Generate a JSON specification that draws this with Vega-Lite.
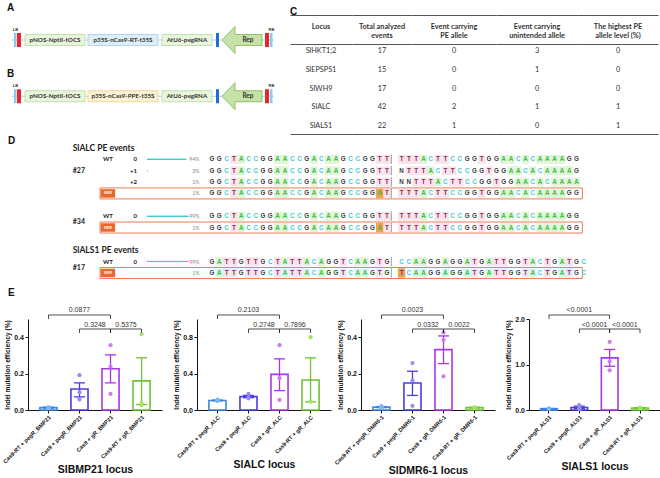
{
"$schema": "https://vega.github.io/schema/vega-lite/v6.json",
"padding": 0,
"background": "white",
"spacing": 0,
"resolve": {"scale": {"color": "independent", "fill": "independent", "stroke": "independent"}},
"config": {
  "aria": false,
  "view": {"stroke": null},
  "font": "Lato",
  "axis": {"labelFont": "Liberation Sans", "labelFontWeight": "bold", "labelColor": "#111", "labelFontSize": 7, "titleFont": "Liberation Sans", "titleFontWeight": "bold", "titleColor": "#111", "domainColor": "#111", "tickColor": "#111", "tickSize": 3, "grid": false},
  "axisY": {"titleFontSize": 6.6, "titlePadding": 3, "labelPadding": 1.5},
  "axisX": {"labelAngle": -45, "labelFontSize": 5.6, "titleFontSize": 10.5, "titlePadding": 0, "labelPadding": 1.5, "labelLimit": 200}
},
"datasets": {
  "cons": [
    {"c":"A","t":"lb","s":4.83,"e":5.69},
    {"c":"A","t":"red","s":5.86,"e":7.24},
    {"c":"A","t":"green","s":8.62,"e":29.31,"m":18.97,"label":"pNOS-NptII-tOCS"},
    {"c":"A","t":"blue","s":30.34,"e":54.48,"m":42.41,"label":"p35S-nCas9-RT-t35S"},
    {"c":"A","t":"green","s":55.86,"e":73.1,"m":64.48,"label":"AtU6-pegRNA"},
    {"c":"A","t":"dblue","s":74.48,"e":75.52},
    {"c":"A","t":"red","s":91.38,"e":92.76},
    {"c":"A","t":"lb","s":93.1,"e":93.97},
    {"c":"B","t":"lb","s":4.83,"e":5.69},
    {"c":"B","t":"red","s":5.86,"e":7.24},
    {"c":"B","t":"green","s":8.62,"e":29.31,"m":18.97,"label":"pNOS-NptII-tOCS"},
    {"c":"B","t":"yellow","s":30.34,"e":54.48,"m":42.41,"label":"p35S-nCas9-PPE-t35S"},
    {"c":"B","t":"green","s":55.86,"e":73.1,"m":64.48,"label":"AtU6-pegRNA"},
    {"c":"B","t":"dblue","s":74.48,"e":75.52},
    {"c":"B","t":"red","s":91.38,"e":92.76},
    {"c":"B","t":"lb","s":93.1,"e":93.97}
  ],
  "tbl": [
    {"row":1,"locus":"SlHKT1;2","total":17,"pe":0,"unint":3,"high":0},
    {"row":2,"locus":"SlEPSPS1","total":15,"pe":0,"unint":1,"high":0},
    {"row":3,"locus":"SlWH9","total":17,"pe":0,"unint":0,"high":0},
    {"row":4,"locus":"SlALC","total":42,"pe":2,"unint":1,"high":1},
    {"row":5,"locus":"SlALS1","total":22,"pe":1,"unint":0,"high":1}
  ],
  "seq": [
    {"row":"27WT","b":["G","G","C","T","A","C","C","G","G","A","A","C","C","G","A","C","A","A","G","C","C","G","G","T","T"," ","T","T","T","A","C","T","T","C","C","G","G","T","G","G","A","A","C","A","C","A","A","A","A","G","G"]},
    {"row":"27p1","b":["G","G","C","T","A","C","C","G","G","A","A","C","C","G","A","C","A","A","G","C","C","G","G","T","T"," ","N","T","T","T","A","C","T","T","C","C","G","G","T","G","G","A","A","C","A","C","A","A","A","A","G"]},
    {"row":"27p2","b":["G","G","C","T","A","C","C","G","G","A","A","C","C","G","A","C","A","A","G","C","C","G","G","T","T"," ","N","N","T","T","T","A","C","T","T","C","C","G","G","T","G","G","A","A","C","A","C","A","A","A","A"]},
    {"row":"27HDR","b":["G","G","C","T","A","C","C","G","G","A","A","C","C","G","A","C","A","A","G","C","C","G","G","A","T"," ","T","T","T","A","C","T","T","C","C","G","G","T","G","G","A","A","C","A","C","A","A","A","A","G","G"]},
    {"row":"34WT","b":["G","G","C","T","A","C","C","G","G","A","A","C","C","G","A","C","A","A","G","C","C","G","G","T","T"," ","T","T","T","A","C","T","T","C","C","G","G","T","G","G","A","A","C","A","C","A","A","A","A","G","G"]},
    {"row":"34HDR","b":["G","G","C","T","A","C","C","G","G","A","A","C","C","G","A","C","A","A","G","C","C","G","G","A","T"," ","T","T","T","A","C","T","T","C","C","G","G","T","G","G","A","A","C","A","C","A","A","A","A","G","G"]},
    {"row":"17WT","b":["G","A","T","T","G","T","T","G","C","T","A","T","T","A","C","A","G","G","T","C","A","A","G","T","G"," ","C","C","A","A","G","G","A","G","G","A","T","G","A","T","T","G","G","T","A","C","T","G","A","T","G","C"]},
    {"row":"17HDR","b":["G","A","T","T","G","T","T","G","C","T","A","T","T","A","C","A","G","G","T","C","A","A","G","T","G"," ","T","C","A","A","G","G","A","G","G","A","T","G","A","T","T","G","G","T","A","C","T","G","A","T","G","C"]}
  ],
  "edits": [{"row":"27HDR","pos":24},{"row":"34HDR","pos":24},{"row":"17HDR","pos":27}],
  "dRow": [
    {"row":"27WT","kind":"WT","indel":"0","pct":0.94},
    {"row":"27p1","kind":"indel","indel":"+1","pct":0.03},
    {"row":"27p2","kind":"indel","indel":"+2","pct":0.01},
    {"row":"27HDR","kind":"HDR","pct":0.01},
    {"row":"34WT","kind":"WT","indel":"0","pct":0.99},
    {"row":"34HDR","kind":"HDR","pct":0.01},
    {"row":"17WT","kind":"WT","indel":"0","pct":0.99},
    {"row":"17HDR","kind":"HDR","pct":0.01}
  ],
  "dLab": [
    {"row":"hALC","t":"SlALC PE events","k":"sec"},
    {"row":"hALS1","t":"SlALS1 PE events","k":"sec"},
    {"row":"27p1","t":"#27","k":"ev1"},
    {"row":"34WT","t":"#34","k":"ev2"},
    {"row":"17WT","t":"#17","k":"ev2"},
    {"row":"hALC","t":"D","k":"D"},
    {"row":"b2","t":"E","k":"E"}
  ],
  "bars": [
    {"l":"SlBMP21","k":"Cas9-RT + pegR","mean":0.013,"lo":0.010,"hi":0.016},
    {"l":"SlBMP21","k":"Cas9 + pegR","mean":0.115,"lo":0.072,"hi":0.149},
    {"l":"SlBMP21","k":"Cas9 + gR","mean":0.227,"lo":0.149,"hi":0.303},
    {"l":"SlBMP21","k":"Cas9-RT + gR","mean":0.160,"lo":0.030,"hi":0.287},
    {"l":"SlALC","k":"Cas9-RT + pegR","mean":0.105,"lo":0.100,"hi":0.110},
    {"l":"SlALC","k":"Cas9 + pegR","mean":0.147,"lo":0.135,"hi":0.160},
    {"l":"SlALC","k":"Cas9 + gR","mean":0.391,"lo":0.213,"hi":0.562},
    {"l":"SlALC","k":"Cas9-RT + gR","mean":0.330,"lo":0.090,"hi":0.573},
    {"l":"SlDMR6-1","k":"Cas9-RT + pegR","mean":0.016,"lo":0.013,"hi":0.019},
    {"l":"SlDMR6-1","k":"Cas9 + pegR","mean":0.148,"lo":0.080,"hi":0.213},
    {"l":"SlDMR6-1","k":"Cas9 + gR","mean":0.332,"lo":0.255,"hi":0.407},
    {"l":"SlDMR6-1","k":"Cas9-RT + gR","mean":0.013,"lo":0.011,"hi":0.015},
    {"l":"SlALS1","k":"Cas9-RT + pegR","mean":0.030,"lo":0.027,"hi":0.033},
    {"l":"SlALS1","k":"Cas9 + pegR","mean":0.056,"lo":0.030,"hi":0.085},
    {"l":"SlALS1","k":"Cas9 + gR","mean":1.145,"lo":0.960,"hi":1.330},
    {"l":"SlALS1","k":"Cas9-RT + gR","mean":0.043,"lo":0.040,"hi":0.046}
  ],
  "pts": [
    {"l":"SlBMP21","k":"Cas9-RT + pegR","r":1,"v":0.010},{"l":"SlBMP21","k":"Cas9-RT + pegR","r":2,"v":0.015},{"l":"SlBMP21","k":"Cas9-RT + pegR","r":3,"v":0.013},
    {"l":"SlBMP21","k":"Cas9 + pegR","r":1,"v":0.191},{"l":"SlBMP21","k":"Cas9 + pegR","r":2,"v":0.097},{"l":"SlBMP21","k":"Cas9 + pegR","r":3,"v":0.058},
    {"l":"SlBMP21","k":"Cas9 + gR","r":1,"v":0.356},{"l":"SlBMP21","k":"Cas9 + gR","r":2,"v":0.238},{"l":"SlBMP21","k":"Cas9 + gR","r":3,"v":0.088},
    {"l":"SlBMP21","k":"Cas9-RT + gR","r":1,"v":0.416},{"l":"SlBMP21","k":"Cas9-RT + gR","r":2,"v":0.037},{"l":"SlBMP21","k":"Cas9-RT + gR","r":3,"v":0.026},
    {"l":"SlALC","k":"Cas9-RT + pegR","r":1,"v":0.115},{"l":"SlALC","k":"Cas9-RT + pegR","r":2,"v":0.100},{"l":"SlALC","k":"Cas9-RT + pegR","r":3,"v":0.100},
    {"l":"SlALC","k":"Cas9 + pegR","r":1,"v":0.178},{"l":"SlALC","k":"Cas9 + pegR","r":2,"v":0.135},{"l":"SlALC","k":"Cas9 + pegR","r":3,"v":0.128},
    {"l":"SlALC","k":"Cas9 + gR","r":1,"v":0.712},{"l":"SlALC","k":"Cas9 + gR","r":2,"v":0.349},{"l":"SlALC","k":"Cas9 + gR","r":3,"v":0.111},
    {"l":"SlALC","k":"Cas9-RT + gR","r":1,"v":0.800},{"l":"SlALC","k":"Cas9-RT + gR","r":2,"v":0.093},{"l":"SlALC","k":"Cas9-RT + gR","r":3,"v":0.096},
    {"l":"SlDMR6-1","k":"Cas9-RT + pegR","r":1,"v":0.021},{"l":"SlDMR6-1","k":"Cas9-RT + pegR","r":2,"v":0.015},{"l":"SlDMR6-1","k":"Cas9-RT + pegR","r":3,"v":0.012},
    {"l":"SlDMR6-1","k":"Cas9 + pegR","r":1,"v":0.258},{"l":"SlDMR6-1","k":"Cas9 + pegR","r":2,"v":0.162},{"l":"SlDMR6-1","k":"Cas9 + pegR","r":3,"v":0.023},
    {"l":"SlDMR6-1","k":"Cas9 + gR","r":1,"v":0.426},{"l":"SlDMR6-1","k":"Cas9 + gR","r":2,"v":0.385},{"l":"SlDMR6-1","k":"Cas9 + gR","r":3,"v":0.185},
    {"l":"SlDMR6-1","k":"Cas9-RT + gR","r":1,"v":0.015},{"l":"SlDMR6-1","k":"Cas9-RT + gR","r":2,"v":0.011},{"l":"SlDMR6-1","k":"Cas9-RT + gR","r":3,"v":0.013},
    {"l":"SlALS1","k":"Cas9-RT + pegR","r":1,"v":0.030},{"l":"SlALS1","k":"Cas9-RT + pegR","r":2,"v":0.032},{"l":"SlALS1","k":"Cas9-RT + pegR","r":3,"v":0.027},
    {"l":"SlALS1","k":"Cas9 + pegR","r":1,"v":0.108},{"l":"SlALS1","k":"Cas9 + pegR","r":2,"v":0.040},{"l":"SlALS1","k":"Cas9 + pegR","r":3,"v":0.020},
    {"l":"SlALS1","k":"Cas9 + gR","r":1,"v":1.497},{"l":"SlALS1","k":"Cas9 + gR","r":2,"v":1.066},{"l":"SlALS1","k":"Cas9 + gR","r":3,"v":0.872},
    {"l":"SlALS1","k":"Cas9-RT + gR","r":1,"v":0.045},{"l":"SlALS1","k":"Cas9-RT + gR","r":2,"v":0.040},{"l":"SlALS1","k":"Cas9-RT + gR","r":3,"v":0.046}
  ],
  "brk": [
    {"l":"SlBMP21","from":0,"to":2,"mid":1,"p":"0.0877","lvl":0.522},
    {"l":"SlBMP21","from":1,"to":2,"mid":1.5,"p":"0.3248","lvl":0.445},
    {"l":"SlBMP21","from":2,"to":3,"mid":2.5,"p":"0.5375","lvl":0.445},
    {"l":"SlALC","from":0,"to":2,"mid":1,"p":"0.2103","lvl":1.044},
    {"l":"SlALC","from":1,"to":2,"mid":1.5,"p":"0.2748","lvl":0.89},
    {"l":"SlALC","from":2,"to":3,"mid":2.5,"p":"0.7896","lvl":0.89},
    {"l":"SlDMR6-1","from":0,"to":2,"mid":1,"p":"0.0023","lvl":0.522},
    {"l":"SlDMR6-1","from":1,"to":2,"mid":1.5,"p":"0.0332","lvl":0.445},
    {"l":"SlDMR6-1","from":2,"to":3,"mid":2.5,"p":"0.0022","lvl":0.445},
    {"l":"SlALS1","from":0,"to":2,"mid":1,"p":"<0.0001","lvl":2.088},
    {"l":"SlALS1","from":1,"to":2,"mid":1.5,"p":"<0.0001","lvl":1.78},
    {"l":"SlALS1","from":2,"to":3,"mid":2.5,"p":"<0.0001","lvl":1.78}
  ]
},
"vconcat": [
  {
    "hconcat": [
      {
        "width": 290, "height": 135,
        "encoding": {"y": {"field": "c", "type": "ordinal", "scale": {"type": "point", "domain": ["A","B"], "padding": 0.7, "align": 0.508}, "axis": null}},
        "layer": [
          {"data": {"values": [{"c":"A","s":4.1,"e":94.5},{"c":"B","s":4.1,"e":94.5}]}, "mark": {"type": "rule", "color": "#a6cdea", "strokeWidth": 1}, "encoding": {"x": {"field": "s", "type": "quantitative", "scale": {"domain": [0,100], "nice": false, "zero": false}, "axis": null}, "x2": {"field": "e"}}},
          {"data": {"name": "cons"}, "transform": [{"filter": "datum.label != null"}], "mark": {"type": "bar", "height": 11, "strokeWidth": 0.8}, "encoding": {"x": {"field": "s", "type": "quantitative", "scale": {"domain": [0,100], "nice": false, "zero": false}, "axis": null}, "x2": {"field": "e"}, "fill": {"field": "t", "type": "nominal", "scale": {"domain": ["lb","red","green","blue","yellow","dblue"], "range": ["#8cc8ef","#e8262b","#eaf5de","#ddeef9","#fdf1d3","#1f6fd8"]}, "legend": null}, "stroke": {"field": "t", "type": "nominal", "scale": {"domain": ["lb","red","green","blue","yellow","dblue"], "range": ["#8cc8ef","#e8262b","#b7d89a","#a7cdea","#f1cd8d","#1f6fd8"]}, "legend": null}}},
          {"data": {"name": "cons"}, "transform": [{"filter": "datum.label == null"}], "mark": {"type": "bar", "height": 14}, "encoding": {"x": {"field": "s", "type": "quantitative", "scale": {"domain": [0,100], "nice": false, "zero": false}, "axis": null}, "x2": {"field": "e"}, "fill": {"field": "t", "type": "nominal", "scale": {"domain": ["lb","red","green","blue","yellow","dblue"], "range": ["#8cc8ef","#e8262b","#eaf5de","#ddeef9","#fdf1d3","#1f6fd8"]}, "legend": null}}},
          {"data": {"values": [{"c":"A","x":83.45},{"c":"B","x":83.45}]}, "mark": {"type": "point", "shape": "M-1,0L-0.35,-0.675L-0.35,-0.275L1,-0.275L1,0.275L-0.35,0.275L-0.35,0.675Z", "size": 1600, "filled": true, "fill": "#c7e2a9", "stroke": "#7db452", "strokeWidth": 0.8, "opacity": 1}, "encoding": {"x": {"field": "x", "type": "quantitative", "scale": {"domain": [0,100], "nice": false, "zero": false}, "axis": null}}},
          {"data": {"name": "cons"}, "transform": [{"filter": "datum.label != null"}], "mark": {"type": "text", "fontSize": 6.3, "fontWeight": "bold", "color": "#333", "font": "Lato"}, "encoding": {"x": {"field": "m", "type": "quantitative", "scale": {"domain": [0,100], "nice": false, "zero": false}, "axis": null}, "text": {"field": "label", "type": "nominal"}}},
          {"data": {"values": [{"c":"A","x":85.5,"t":"Rep"},{"c":"B","x":85.5,"t":"Rep"}]}, "mark": {"type": "text", "fontSize": 6.5, "fontWeight": "bold", "color": "#333", "font": "Lato"}, "encoding": {"x": {"field": "x", "type": "quantitative", "scale": {"domain": [0,100], "nice": false, "zero": false}, "axis": null}, "text": {"field": "t", "type": "nominal"}}},
          {"data": {"values": [{"c":"A","x":5.3,"t":"LB"},{"c":"A","x":93.6,"t":"RB"},{"c":"B","x":5.3,"t":"LB"},{"c":"B","x":93.6,"t":"RB"}]}, "mark": {"type": "text", "fontSize": 4, "fontWeight": "bold", "color": "#333", "dy": -10, "font": "Liberation Sans"}, "encoding": {"x": {"field": "x", "type": "quantitative", "scale": {"domain": [0,100], "nice": false, "zero": false}, "axis": null}, "text": {"field": "t", "type": "nominal"}}},
          {"data": {"values": [{"c":"A","t":"A","x":2.4}]}, "mark": {"type": "text", "fontSize": 10, "fontWeight": "bold", "color": "#111", "align": "left", "dy": -32.5, "font": "Liberation Sans"}, "encoding": {"x": {"field": "x", "type": "quantitative", "scale": {"domain": [0,100], "nice": false, "zero": false}, "axis": null}, "text": {"field": "t", "type": "nominal"}}},
          {"data": {"values": [{"c":"B","t":"B","x":2.4}]}, "mark": {"type": "text", "fontSize": 10, "fontWeight": "bold", "color": "#111", "align": "left", "dy": -22.3, "font": "Liberation Sans"}, "encoding": {"x": {"field": "x", "type": "quantitative", "scale": {"domain": [0,100], "nice": false, "zero": false}, "axis": null}, "text": {"field": "t", "type": "nominal"}}}
        ]
      },
      {
        "width": 62, "height": 135, "data": {"name": "tbl"},
        "encoding": {"y": {"field": "row", "type": "quantitative", "scale": {"domain": [-1.72, 5.48], "reverse": true, "nice": false, "zero": false}, "axis": {"grid": true, "values": [-0.92, 0.627, 5.427], "domain": false, "ticks": false, "labels": false, "title": null, "gridColor": "#555", "gridWidth": 1.1}}},
        "layer": [
          {"mark": {"type": "text", "fontSize": 7.3, "color": "#333", "font": "Lato"}, "encoding": {"text": {"field": "locus", "type": "nominal"}}},
          {"data": {"values": [{"row": 0}]}, "mark": {"type": "text", "fontSize": 7.3, "fontWeight": "bold", "color": "#333", "font": "Lato", "dy": -5.75, "text": "Locus"}},
          {"data": {"values": [{"row": 0}]}, "mark": {"type": "text", "fontSize": 10, "fontWeight": "bold", "color": "#111", "font": "Liberation Sans", "align": "left", "dx": -31, "dy": -20, "text": "C"}}
        ]
      },
      {
        "width": 60, "height": 135, "data": {"name": "tbl"},
        "encoding": {"y": {"field": "row", "type": "quantitative", "scale": {"domain": [-1.72, 5.48], "reverse": true, "nice": false, "zero": false}, "axis": {"grid": true, "values": [-0.92, 0.627, 5.427], "domain": false, "ticks": false, "labels": false, "title": null, "gridColor": "#555", "gridWidth": 1.1}}},
        "layer": [
          {"mark": {"type": "text", "fontSize": 7.3, "color": "#333", "font": "Lato"}, "encoding": {"text": {"field": "total", "type": "nominal"}}},
          {"data": {"values": [{"row": 0}]}, "mark": {"type": "text", "fontSize": 7.3, "fontWeight": "bold", "color": "#333", "font": "Lato", "dy": -5.75, "lineHeight": 9, "text": ["Total analyzed", "events"]}}
        ]
      },
      {
        "width": 84, "height": 135, "data": {"name": "tbl"},
        "encoding": {"y": {"field": "row", "type": "quantitative", "scale": {"domain": [-1.72, 5.48], "reverse": true, "nice": false, "zero": false}, "axis": {"grid": true, "values": [-0.92, 0.627, 5.427], "domain": false, "ticks": false, "labels": false, "title": null, "gridColor": "#555", "gridWidth": 1.1}}},
        "layer": [
          {"mark": {"type": "text", "fontSize": 7.3, "color": "#333", "font": "Lato"}, "encoding": {"text": {"field": "pe", "type": "nominal"}}},
          {"data": {"values": [{"row": 0}]}, "mark": {"type": "text", "fontSize": 7.3, "fontWeight": "bold", "color": "#333", "font": "Lato", "dy": -5.75, "lineHeight": 9, "text": ["Event carrying", "PE allele"]}}
        ]
      },
      {
        "width": 82, "height": 135, "data": {"name": "tbl"},
        "encoding": {"y": {"field": "row", "type": "quantitative", "scale": {"domain": [-1.72, 5.48], "reverse": true, "nice": false, "zero": false}, "axis": {"grid": true, "values": [-0.92, 0.627, 5.427], "domain": false, "ticks": false, "labels": false, "title": null, "gridColor": "#555", "gridWidth": 1.1}}},
        "layer": [
          {"mark": {"type": "text", "fontSize": 7.3, "color": "#333", "font": "Lato"}, "encoding": {"text": {"field": "unint", "type": "nominal"}}},
          {"data": {"values": [{"row": 0}]}, "mark": {"type": "text", "fontSize": 7.3, "fontWeight": "bold", "color": "#333", "font": "Lato", "dy": -5.75, "lineHeight": 9, "text": ["Event carrying", "unintended allele"]}}
        ]
      },
      {
        "width": 80, "height": 135, "data": {"name": "tbl"},
        "encoding": {"y": {"field": "row", "type": "quantitative", "scale": {"domain": [-1.72, 5.48], "reverse": true, "nice": false, "zero": false}, "axis": {"grid": true, "values": [-0.92, 0.627, 5.427], "domain": false, "ticks": false, "labels": false, "title": null, "gridColor": "#555", "gridWidth": 1.1}}},
        "layer": [
          {"mark": {"type": "text", "fontSize": 7.3, "color": "#333", "font": "Lato"}, "encoding": {"text": {"field": "high", "type": "nominal"}}},
          {"data": {"values": [{"row": 0}]}, "mark": {"type": "text", "fontSize": 7.3, "fontWeight": "bold", "color": "#333", "font": "Lato", "dy": -5.75, "lineHeight": 9, "text": ["The highest PE", "allele level (%)"]}}
        ]
      }
    ],
    "spacing": 0,
    "bounds": "flush"
  },
  {
    "width": 660, "height": 170.4,
    "encoding": {"y": {"field": "row", "type": "ordinal", "scale": {"type": "point", "domain": ["hALC","27WT","27p1","27p2","27HDR","s1","34WT","34HDR","s2","hALS1","17WT","17HDR","b1","b2"], "padding": 1, "align": 0.572}, "axis": null}},
    "resolve": {"scale": {"x": "independent"}},
    "layer": [
      {
        "layer": [
          {"data": {"name": "dRow"}, "transform": [{"filter": "datum.kind == 'HDR'"}], "mark": {"type": "bar", "height": 11, "filled": false, "color": "#e87b52", "strokeWidth": 1}, "encoding": {"x": {"datum": -14.36, "type": "quantitative", "scale": {"domain": [-28.08, 62.45], "nice": false, "zero": false}, "axis": null}, "x2": {"datum": 51.8}}},
          {"data": {"name": "seq"}, "transform": [{"flatten": ["b"]}, {"window": [{"op": "row_number", "as": "pos"}], "groupby": ["row"]}, {"filter": "datum.b == 'A' || datum.b == 'T'"}], "mark": {"type": "tick", "orient": "vertical", "size": 9, "thickness": 7.3, "opacity": 1}, "encoding": {"x": {"field": "pos", "type": "quantitative", "scale": {"domain": [-28.08, 62.45], "nice": false, "zero": false}, "axis": null}, "fill": {"field": "b", "type": "nominal", "scale": {"domain": ["A","T"], "range": ["#e0f5d9","#f8e3ec"]}, "legend": null}}},
          {"data": {"name": "edits"}, "mark": {"type": "tick", "orient": "vertical", "size": 9.5, "thickness": 7.3, "opacity": 1, "color": "#f2a04e"}, "encoding": {"x": {"field": "pos", "type": "quantitative", "scale": {"domain": [-28.08, 62.45], "nice": false, "zero": false}, "axis": null}}},
          {"data": {"name": "dRow"}, "mark": {"type": "tick", "orient": "vertical", "size": 9, "thickness": 0.01, "filled": false, "color": "#8a8a8a", "strokeWidth": 0.8, "strokeDash": [1.5, 1], "opacity": 1}, "encoding": {"x": {"datum": 25.6, "type": "quantitative", "scale": {"domain": [-28.08, 62.45], "nice": false, "zero": false}, "axis": null}}},
          {"data": {"name": "seq"}, "transform": [{"flatten": ["b"]}, {"window": [{"op": "row_number", "as": "pos"}], "groupby": ["row"]}], "mark": {"type": "text", "fontSize": 6.3, "fontWeight": "bold", "font": "Liberation Sans"}, "encoding": {"x": {"field": "pos", "type": "quantitative", "scale": {"domain": [-28.08, 62.45], "nice": false, "zero": false}, "axis": null}, "text": {"field": "b", "type": "nominal"}, "color": {"field": "b", "type": "nominal", "scale": {"domain": ["A","C","G","T","N"," "], "range": ["#3cbf3c","#45c8d2","#3a3a3a","#8c2a55","#3a3a3a","#ffffff"]}, "legend": null}}},
          {"data": {"name": "dRow"}, "transform": [{"filter": "datum.kind == 'HDR'"}], "mark": {"type": "bar", "height": 8.5, "color": "#e8692a"}, "encoding": {"x": {"datum": -14.27, "type": "quantitative", "scale": {"domain": [-28.08, 62.45], "nice": false, "zero": false}, "axis": null}, "x2": {"datum": -12.29}}},
          {"data": {"name": "dRow"}, "transform": [{"filter": "datum.kind == 'HDR'"}], "mark": {"type": "text", "fontSize": 3.6, "fontWeight": "bold", "color": "white", "font": "Liberation Sans", "text": "HDR"}, "encoding": {"x": {"datum": -13.28, "type": "quantitative", "scale": {"domain": [-28.08, 62.45], "nice": false, "zero": false}, "axis": null}}},
          {"data": {"name": "dRow"}, "transform": [{"filter": "datum.kind == 'WT'"}], "mark": {"type": "text", "fontSize": 6, "fontWeight": "bold", "color": "#222", "font": "Lato", "align": "left", "text": "WT"}, "encoding": {"x": {"datum": -13.95, "type": "quantitative", "scale": {"domain": [-28.08, 62.45], "nice": false, "zero": false}, "axis": null}}},
          {"data": {"name": "dRow"}, "transform": [{"filter": "datum.indel != null"}], "mark": {"type": "text", "fontSize": 6, "fontWeight": "bold", "color": "#222", "font": "Lato", "align": "right"}, "encoding": {"x": {"datum": -9.29, "type": "quantitative", "scale": {"domain": [-28.08, 62.45], "nice": false, "zero": false}, "axis": null}, "text": {"field": "indel", "type": "nominal"}}},
          {"data": {"name": "dRow"}, "mark": {"type": "text", "fontSize": 5.3, "color": "#8a8a8a", "font": "Lato", "align": "right"}, "encoding": {"x": {"datum": -0.7, "type": "quantitative", "scale": {"domain": [-28.08, 62.45], "nice": false, "zero": false}, "axis": null}, "text": {"field": "pct", "type": "quantitative", "format": ".0%"}}},
          {"data": {"name": "dLab"}, "transform": [{"filter": "datum.k == 'sec'"}], "mark": {"type": "text", "fontSize": 8.5, "fontWeight": "bold", "color": "#222", "font": "Lato", "align": "left"}, "encoding": {"x": {"datum": -18.1, "type": "quantitative", "scale": {"domain": [-28.08, 62.45], "nice": false, "zero": false}, "axis": null}, "text": {"field": "t", "type": "nominal"}}},
          {"data": {"name": "dLab"}, "transform": [{"filter": "datum.k == 'ev1'"}], "mark": {"type": "text", "fontSize": 7, "fontWeight": "bold", "color": "#222", "font": "Lato", "align": "left"}, "encoding": {"x": {"datum": -18.1, "type": "quantitative", "scale": {"domain": [-28.08, 62.45], "nice": false, "zero": false}, "axis": null}, "text": {"field": "t", "type": "nominal"}}},
          {"data": {"name": "dLab"}, "transform": [{"filter": "datum.k == 'ev2'"}], "mark": {"type": "text", "fontSize": 7, "fontWeight": "bold", "color": "#222", "font": "Lato", "align": "left", "dy": 6}, "encoding": {"x": {"datum": -18.1, "type": "quantitative", "scale": {"domain": [-28.08, 62.45], "nice": false, "zero": false}, "axis": null}, "text": {"field": "t", "type": "nominal"}}},
          {"data": {"name": "dLab"}, "transform": [{"filter": "datum.k == 'D'"}], "mark": {"type": "text", "fontSize": 10, "fontWeight": "bold", "color": "#111", "font": "Liberation Sans", "align": "left", "dy": -7}, "encoding": {"x": {"datum": -26.98, "type": "quantitative", "scale": {"domain": [-28.08, 62.45], "nice": false, "zero": false}, "axis": null}, "text": {"field": "t", "type": "nominal"}}},
          {"data": {"name": "dLab"}, "transform": [{"filter": "datum.k == 'E'"}], "mark": {"type": "text", "fontSize": 10, "fontWeight": "bold", "color": "#111", "font": "Liberation Sans", "align": "left", "dy": -3}, "encoding": {"x": {"datum": -26.98, "type": "quantitative", "scale": {"domain": [-28.08, 62.45], "nice": false, "zero": false}, "axis": null}, "text": {"field": "t", "type": "nominal"}}}
        ]
      },
      {"data": {"name": "dRow"}, "mark": {"type": "bar", "height": 2, "color": "#3fd1c4", "cornerRadius": 1}, "encoding": {"x": {"field": "pct", "type": "quantitative", "scale": {"domain": [-3.448, 12.063], "nice": false, "zero": false}, "axis": null}}}
    ]
  },
  {
    "hconcat": [
      {"width": 28, "height": 91, "data": {"values": [{"a": 1}]}, "mark": {"type": "point", "opacity": 0}},
      {
        "width": 134, "height": 91,
        "resolve": {"scale": {"x": "independent"}},
        "layer": [
          {"data": {"name": "bars"}, "transform": [{"filter": "datum.l == 'SlBMP21'"}],
           "encoding": {"x": {"field": "k", "type": "nominal", "sort": null, "scale": {"paddingInner": 0.45, "paddingOuter": 0.384}, "axis": {"labelExpr": "datum.label + '_BMP21'", "title": "SlBMP21 locus"}}},
           "layer": [
             {"mark": {"type": "bar", "filled": false, "strokeWidth": 1.6}, "encoding": {"y": {"field": "mean", "type": "quantitative", "title": "Indel mutation efficiency (%)", "scale": {"domain": [0, 0.5], "nice": false}, "axis": {"values": [0, 0.1, 0.2, 0.3, 0.4, 0.5], "format": ".1f"}}, "color": {"field": "k", "type": "nominal", "scale": {"domain": ["Cas9-RT + pegR","Cas9 + pegR","Cas9 + gR","Cas9-RT + gR"], "range": ["#3f86e6","#4a3ddf","#a737e4","#70c332"]}, "legend": null}}},
             {"mark": {"type": "rule", "strokeWidth": 1.3}, "encoding": {"y": {"field": "lo", "type": "quantitative", "title": "Indel mutation efficiency (%)", "scale": {"domain": [0, 0.5], "nice": false}}, "y2": {"field": "hi"}, "color": {"field": "k", "type": "nominal", "scale": {"domain": ["Cas9-RT + pegR","Cas9 + pegR","Cas9 + gR","Cas9-RT + gR"], "range": ["#3f86e6","#4a3ddf","#a737e4","#70c332"]}, "legend": null}}},
             {"mark": {"type": "tick", "size": 11, "thickness": 1.3, "opacity": 1}, "encoding": {"y": {"field": "lo", "type": "quantitative", "title": "Indel mutation efficiency (%)", "scale": {"domain": [0, 0.5], "nice": false}}, "color": {"field": "k", "type": "nominal", "scale": {"domain": ["Cas9-RT + pegR","Cas9 + pegR","Cas9 + gR","Cas9-RT + gR"], "range": ["#3f86e6","#4a3ddf","#a737e4","#70c332"]}, "legend": null}}},
             {"mark": {"type": "tick", "size": 11, "thickness": 1.3, "opacity": 1}, "encoding": {"y": {"field": "hi", "type": "quantitative", "title": "Indel mutation efficiency (%)", "scale": {"domain": [0, 0.5], "nice": false}}, "color": {"field": "k", "type": "nominal", "scale": {"domain": ["Cas9-RT + pegR","Cas9 + pegR","Cas9 + gR","Cas9-RT + gR"], "range": ["#3f86e6","#4a3ddf","#a737e4","#70c332"]}, "legend": null}}},
             {"data": {"name": "pts"}, "transform": [{"filter": "datum.l == 'SlBMP21'"}], "mark": {"type": "circle", "size": 18, "opacity": 1}, "encoding": {"y": {"field": "v", "type": "quantitative", "title": "Indel mutation efficiency (%)", "scale": {"domain": [0, 0.5], "nice": false}}, "fill": {"field": "k", "type": "nominal", "scale": {"domain": ["Cas9-RT + pegR","Cas9 + pegR","Cas9 + gR","Cas9-RT + gR"], "range": ["#7fb6f2","#9b8cf0","#cf7fe8","#a8df6b"]}, "legend": null}}}
           ]},
          {"data": {"name": "brk"}, "transform": [{"filter": "datum.l == 'SlBMP21'"}],
           "encoding": {"y": {"field": "lvl", "type": "quantitative", "title": "Indel mutation efficiency (%)", "scale": {"domain": [0, 0.5], "nice": false}}},
           "layer": [
             {"mark": {"type": "rule", "strokeWidth": 0.8, "color": "#222"}, "encoding": {"x": {"field": "from", "type": "quantitative", "scale": {"domain": [-0.659, 3.659], "nice": false, "zero": false}, "axis": null}, "x2": {"field": "to"}}},
             {"mark": {"type": "tick", "orient": "vertical", "size": 4, "thickness": 0.8, "yOffset": 2, "color": "#222", "opacity": 1}, "encoding": {"x": {"field": "from", "type": "quantitative", "scale": {"domain": [-0.659, 3.659], "nice": false, "zero": false}, "axis": null}}},
             {"mark": {"type": "tick", "orient": "vertical", "size": 4, "thickness": 0.8, "yOffset": 2, "color": "#222", "opacity": 1}, "encoding": {"x": {"field": "to", "type": "quantitative", "scale": {"domain": [-0.659, 3.659], "nice": false, "zero": false}, "axis": null}}},
             {"mark": {"type": "text", "fontSize": 7, "font": "Liberation Sans", "color": "#333", "baseline": "bottom", "dy": -1.5}, "encoding": {"x": {"field": "mid", "type": "quantitative", "scale": {"domain": [-0.659, 3.659], "nice": false, "zero": false}, "axis": null}, "text": {"field": "p", "type": "nominal"}}}
           ]}
        ]
      },
      {"width": 35, "height": 91, "data": {"values": [{"a": 1}]}, "mark": {"type": "point", "opacity": 0}},
      {
        "width": 134, "height": 91,
        "resolve": {"scale": {"x": "independent"}},
        "layer": [
          {"data": {"name": "bars"}, "transform": [{"filter": "datum.l == 'SlALC'"}],
           "encoding": {"x": {"field": "k", "type": "nominal", "sort": null, "scale": {"paddingInner": 0.45, "paddingOuter": 0.384}, "axis": {"labelExpr": "datum.label + '_ALC'", "title": "SlALC locus"}}},
           "layer": [
             {"mark": {"type": "bar", "filled": false, "strokeWidth": 1.6}, "encoding": {"y": {"field": "mean", "type": "quantitative", "title": "Indel mutation efficiency (%)", "scale": {"domain": [0, 1.0], "nice": false}, "axis": {"values": [0, 0.2, 0.4, 0.6, 0.8, 1.0], "format": ".1f"}}, "color": {"field": "k", "type": "nominal", "scale": {"domain": ["Cas9-RT + pegR","Cas9 + pegR","Cas9 + gR","Cas9-RT + gR"], "range": ["#3f86e6","#4a3ddf","#a737e4","#70c332"]}, "legend": null}}},
             {"mark": {"type": "rule", "strokeWidth": 1.3}, "encoding": {"y": {"field": "lo", "type": "quantitative", "title": "Indel mutation efficiency (%)", "scale": {"domain": [0, 1.0], "nice": false}}, "y2": {"field": "hi"}, "color": {"field": "k", "type": "nominal", "scale": {"domain": ["Cas9-RT + pegR","Cas9 + pegR","Cas9 + gR","Cas9-RT + gR"], "range": ["#3f86e6","#4a3ddf","#a737e4","#70c332"]}, "legend": null}}},
             {"mark": {"type": "tick", "size": 11, "thickness": 1.3, "opacity": 1}, "encoding": {"y": {"field": "lo", "type": "quantitative", "title": "Indel mutation efficiency (%)", "scale": {"domain": [0, 1.0], "nice": false}}, "color": {"field": "k", "type": "nominal", "scale": {"domain": ["Cas9-RT + pegR","Cas9 + pegR","Cas9 + gR","Cas9-RT + gR"], "range": ["#3f86e6","#4a3ddf","#a737e4","#70c332"]}, "legend": null}}},
             {"mark": {"type": "tick", "size": 11, "thickness": 1.3, "opacity": 1}, "encoding": {"y": {"field": "hi", "type": "quantitative", "title": "Indel mutation efficiency (%)", "scale": {"domain": [0, 1.0], "nice": false}}, "color": {"field": "k", "type": "nominal", "scale": {"domain": ["Cas9-RT + pegR","Cas9 + pegR","Cas9 + gR","Cas9-RT + gR"], "range": ["#3f86e6","#4a3ddf","#a737e4","#70c332"]}, "legend": null}}},
             {"data": {"name": "pts"}, "transform": [{"filter": "datum.l == 'SlALC'"}], "mark": {"type": "circle", "size": 18, "opacity": 1}, "encoding": {"y": {"field": "v", "type": "quantitative", "title": "Indel mutation efficiency (%)", "scale": {"domain": [0, 1.0], "nice": false}}, "fill": {"field": "k", "type": "nominal", "scale": {"domain": ["Cas9-RT + pegR","Cas9 + pegR","Cas9 + gR","Cas9-RT + gR"], "range": ["#7fb6f2","#9b8cf0","#cf7fe8","#a8df6b"]}, "legend": null}}}
           ]},
          {"data": {"name": "brk"}, "transform": [{"filter": "datum.l == 'SlALC'"}],
           "encoding": {"y": {"field": "lvl", "type": "quantitative", "title": "Indel mutation efficiency (%)", "scale": {"domain": [0, 1.0], "nice": false}}},
           "layer": [
             {"mark": {"type": "rule", "strokeWidth": 0.8, "color": "#222"}, "encoding": {"x": {"field": "from", "type": "quantitative", "scale": {"domain": [-0.659, 3.659], "nice": false, "zero": false}, "axis": null}, "x2": {"field": "to"}}},
             {"mark": {"type": "tick", "orient": "vertical", "size": 4, "thickness": 0.8, "yOffset": 2, "color": "#222", "opacity": 1}, "encoding": {"x": {"field": "from", "type": "quantitative", "scale": {"domain": [-0.659, 3.659], "nice": false, "zero": false}, "axis": null}}},
             {"mark": {"type": "tick", "orient": "vertical", "size": 4, "thickness": 0.8, "yOffset": 2, "color": "#222", "opacity": 1}, "encoding": {"x": {"field": "to", "type": "quantitative", "scale": {"domain": [-0.659, 3.659], "nice": false, "zero": false}, "axis": null}}},
             {"mark": {"type": "text", "fontSize": 7, "font": "Liberation Sans", "color": "#333", "baseline": "bottom", "dy": -1.5}, "encoding": {"x": {"field": "mid", "type": "quantitative", "scale": {"domain": [-0.659, 3.659], "nice": false, "zero": false}, "axis": null}, "text": {"field": "p", "type": "nominal"}}}
           ]}
        ]
      },
      {"width": 30, "height": 91, "data": {"values": [{"a": 1}]}, "mark": {"type": "point", "opacity": 0}},
      {
        "width": 134, "height": 91,
        "resolve": {"scale": {"x": "independent"}},
        "layer": [
          {"data": {"name": "bars"}, "transform": [{"filter": "datum.l == 'SlDMR6-1'"}],
           "encoding": {"x": {"field": "k", "type": "nominal", "sort": null, "scale": {"paddingInner": 0.45, "paddingOuter": 0.384}, "axis": {"labelExpr": "datum.label + '_DMR6-1'", "title": "SlDMR6-1 locus"}}},
           "layer": [
             {"mark": {"type": "bar", "filled": false, "strokeWidth": 1.6}, "encoding": {"y": {"field": "mean", "type": "quantitative", "title": "Indel mutation efficiency (%)", "scale": {"domain": [0, 0.5], "nice": false}, "axis": {"values": [0, 0.1, 0.2, 0.3, 0.4, 0.5], "format": ".1f"}}, "color": {"field": "k", "type": "nominal", "scale": {"domain": ["Cas9-RT + pegR","Cas9 + pegR","Cas9 + gR","Cas9-RT + gR"], "range": ["#3f86e6","#4a3ddf","#a737e4","#70c332"]}, "legend": null}}},
             {"mark": {"type": "rule", "strokeWidth": 1.3}, "encoding": {"y": {"field": "lo", "type": "quantitative", "title": "Indel mutation efficiency (%)", "scale": {"domain": [0, 0.5], "nice": false}}, "y2": {"field": "hi"}, "color": {"field": "k", "type": "nominal", "scale": {"domain": ["Cas9-RT + pegR","Cas9 + pegR","Cas9 + gR","Cas9-RT + gR"], "range": ["#3f86e6","#4a3ddf","#a737e4","#70c332"]}, "legend": null}}},
             {"mark": {"type": "tick", "size": 11, "thickness": 1.3, "opacity": 1}, "encoding": {"y": {"field": "lo", "type": "quantitative", "title": "Indel mutation efficiency (%)", "scale": {"domain": [0, 0.5], "nice": false}}, "color": {"field": "k", "type": "nominal", "scale": {"domain": ["Cas9-RT + pegR","Cas9 + pegR","Cas9 + gR","Cas9-RT + gR"], "range": ["#3f86e6","#4a3ddf","#a737e4","#70c332"]}, "legend": null}}},
             {"mark": {"type": "tick", "size": 11, "thickness": 1.3, "opacity": 1}, "encoding": {"y": {"field": "hi", "type": "quantitative", "title": "Indel mutation efficiency (%)", "scale": {"domain": [0, 0.5], "nice": false}}, "color": {"field": "k", "type": "nominal", "scale": {"domain": ["Cas9-RT + pegR","Cas9 + pegR","Cas9 + gR","Cas9-RT + gR"], "range": ["#3f86e6","#4a3ddf","#a737e4","#70c332"]}, "legend": null}}},
             {"data": {"name": "pts"}, "transform": [{"filter": "datum.l == 'SlDMR6-1'"}], "mark": {"type": "circle", "size": 18, "opacity": 1}, "encoding": {"y": {"field": "v", "type": "quantitative", "title": "Indel mutation efficiency (%)", "scale": {"domain": [0, 0.5], "nice": false}}, "fill": {"field": "k", "type": "nominal", "scale": {"domain": ["Cas9-RT + pegR","Cas9 + pegR","Cas9 + gR","Cas9-RT + gR"], "range": ["#7fb6f2","#9b8cf0","#cf7fe8","#a8df6b"]}, "legend": null}}}
           ]},
          {"data": {"name": "brk"}, "transform": [{"filter": "datum.l == 'SlDMR6-1'"}],
           "encoding": {"y": {"field": "lvl", "type": "quantitative", "title": "Indel mutation efficiency (%)", "scale": {"domain": [0, 0.5], "nice": false}}},
           "layer": [
             {"mark": {"type": "rule", "strokeWidth": 0.8, "color": "#222"}, "encoding": {"x": {"field": "from", "type": "quantitative", "scale": {"domain": [-0.659, 3.659], "nice": false, "zero": false}, "axis": null}, "x2": {"field": "to"}}},
             {"mark": {"type": "tick", "orient": "vertical", "size": 4, "thickness": 0.8, "yOffset": 2, "color": "#222", "opacity": 1}, "encoding": {"x": {"field": "from", "type": "quantitative", "scale": {"domain": [-0.659, 3.659], "nice": false, "zero": false}, "axis": null}}},
             {"mark": {"type": "tick", "orient": "vertical", "size": 4, "thickness": 0.8, "yOffset": 2, "color": "#222", "opacity": 1}, "encoding": {"x": {"field": "to", "type": "quantitative", "scale": {"domain": [-0.659, 3.659], "nice": false, "zero": false}, "axis": null}}},
             {"mark": {"type": "text", "fontSize": 7, "font": "Liberation Sans", "color": "#333", "baseline": "bottom", "dy": -1.5}, "encoding": {"x": {"field": "mid", "type": "quantitative", "scale": {"domain": [-0.659, 3.659], "nice": false, "zero": false}, "axis": null}, "text": {"field": "p", "type": "nominal"}}}
           ]}
        ]
      },
      {"width": 34, "height": 91, "data": {"values": [{"a": 1}]}, "mark": {"type": "point", "opacity": 0}},
      {
        "width": 131, "height": 91,
        "resolve": {"scale": {"x": "independent"}},
        "layer": [
          {"data": {"name": "bars"}, "transform": [{"filter": "datum.l == 'SlALS1'"}],
           "encoding": {"x": {"field": "k", "type": "nominal", "sort": null, "scale": {"paddingInner": 0.45, "paddingOuter": 0.384}, "axis": {"labelExpr": "datum.label + '_ALS1'", "title": "SlALS1 locus"}}},
           "layer": [
             {"mark": {"type": "bar", "filled": false, "strokeWidth": 1.6}, "encoding": {"y": {"field": "mean", "type": "quantitative", "title": "Indel mutation efficiency (%)", "scale": {"domain": [0, 2.0], "nice": false}, "axis": {"values": [0, 0.5, 1.0, 1.5, 2.0], "format": ".1f"}}, "color": {"field": "k", "type": "nominal", "scale": {"domain": ["Cas9-RT + pegR","Cas9 + pegR","Cas9 + gR","Cas9-RT + gR"], "range": ["#3f86e6","#4a3ddf","#a737e4","#70c332"]}, "legend": null}}},
             {"mark": {"type": "rule", "strokeWidth": 1.3}, "encoding": {"y": {"field": "lo", "type": "quantitative", "title": "Indel mutation efficiency (%)", "scale": {"domain": [0, 2.0], "nice": false}}, "y2": {"field": "hi"}, "color": {"field": "k", "type": "nominal", "scale": {"domain": ["Cas9-RT + pegR","Cas9 + pegR","Cas9 + gR","Cas9-RT + gR"], "range": ["#3f86e6","#4a3ddf","#a737e4","#70c332"]}, "legend": null}}},
             {"mark": {"type": "tick", "size": 11, "thickness": 1.3, "opacity": 1}, "encoding": {"y": {"field": "lo", "type": "quantitative", "title": "Indel mutation efficiency (%)", "scale": {"domain": [0, 2.0], "nice": false}}, "color": {"field": "k", "type": "nominal", "scale": {"domain": ["Cas9-RT + pegR","Cas9 + pegR","Cas9 + gR","Cas9-RT + gR"], "range": ["#3f86e6","#4a3ddf","#a737e4","#70c332"]}, "legend": null}}},
             {"mark": {"type": "tick", "size": 11, "thickness": 1.3, "opacity": 1}, "encoding": {"y": {"field": "hi", "type": "quantitative", "title": "Indel mutation efficiency (%)", "scale": {"domain": [0, 2.0], "nice": false}}, "color": {"field": "k", "type": "nominal", "scale": {"domain": ["Cas9-RT + pegR","Cas9 + pegR","Cas9 + gR","Cas9-RT + gR"], "range": ["#3f86e6","#4a3ddf","#a737e4","#70c332"]}, "legend": null}}},
             {"data": {"name": "pts"}, "transform": [{"filter": "datum.l == 'SlALS1'"}], "mark": {"type": "circle", "size": 18, "opacity": 1}, "encoding": {"y": {"field": "v", "type": "quantitative", "title": "Indel mutation efficiency (%)", "scale": {"domain": [0, 2.0], "nice": false}}, "fill": {"field": "k", "type": "nominal", "scale": {"domain": ["Cas9-RT + pegR","Cas9 + pegR","Cas9 + gR","Cas9-RT + gR"], "range": ["#7fb6f2","#9b8cf0","#cf7fe8","#a8df6b"]}, "legend": null}}}
           ]},
          {"data": {"name": "brk"}, "transform": [{"filter": "datum.l == 'SlALS1'"}],
           "encoding": {"y": {"field": "lvl", "type": "quantitative", "title": "Indel mutation efficiency (%)", "scale": {"domain": [0, 2.0], "nice": false}}},
           "layer": [
             {"mark": {"type": "rule", "strokeWidth": 0.8, "color": "#222"}, "encoding": {"x": {"field": "from", "type": "quantitative", "scale": {"domain": [-0.659, 3.659], "nice": false, "zero": false}, "axis": null}, "x2": {"field": "to"}}},
             {"mark": {"type": "tick", "orient": "vertical", "size": 4, "thickness": 0.8, "yOffset": 2, "color": "#222", "opacity": 1}, "encoding": {"x": {"field": "from", "type": "quantitative", "scale": {"domain": [-0.659, 3.659], "nice": false, "zero": false}, "axis": null}}},
             {"mark": {"type": "tick", "orient": "vertical", "size": 4, "thickness": 0.8, "yOffset": 2, "color": "#222", "opacity": 1}, "encoding": {"x": {"field": "to", "type": "quantitative", "scale": {"domain": [-0.659, 3.659], "nice": false, "zero": false}, "axis": null}}},
             {"mark": {"type": "text", "fontSize": 7, "font": "Liberation Sans", "color": "#333", "baseline": "bottom", "dy": -1.5}, "encoding": {"x": {"field": "mid", "type": "quantitative", "scale": {"domain": [-0.659, 3.659], "nice": false, "zero": false}, "axis": null}, "text": {"field": "p", "type": "nominal"}}}
           ]}
        ]
      }
    ],
    "spacing": 0,
    "bounds": "flush"
  }
]
}
